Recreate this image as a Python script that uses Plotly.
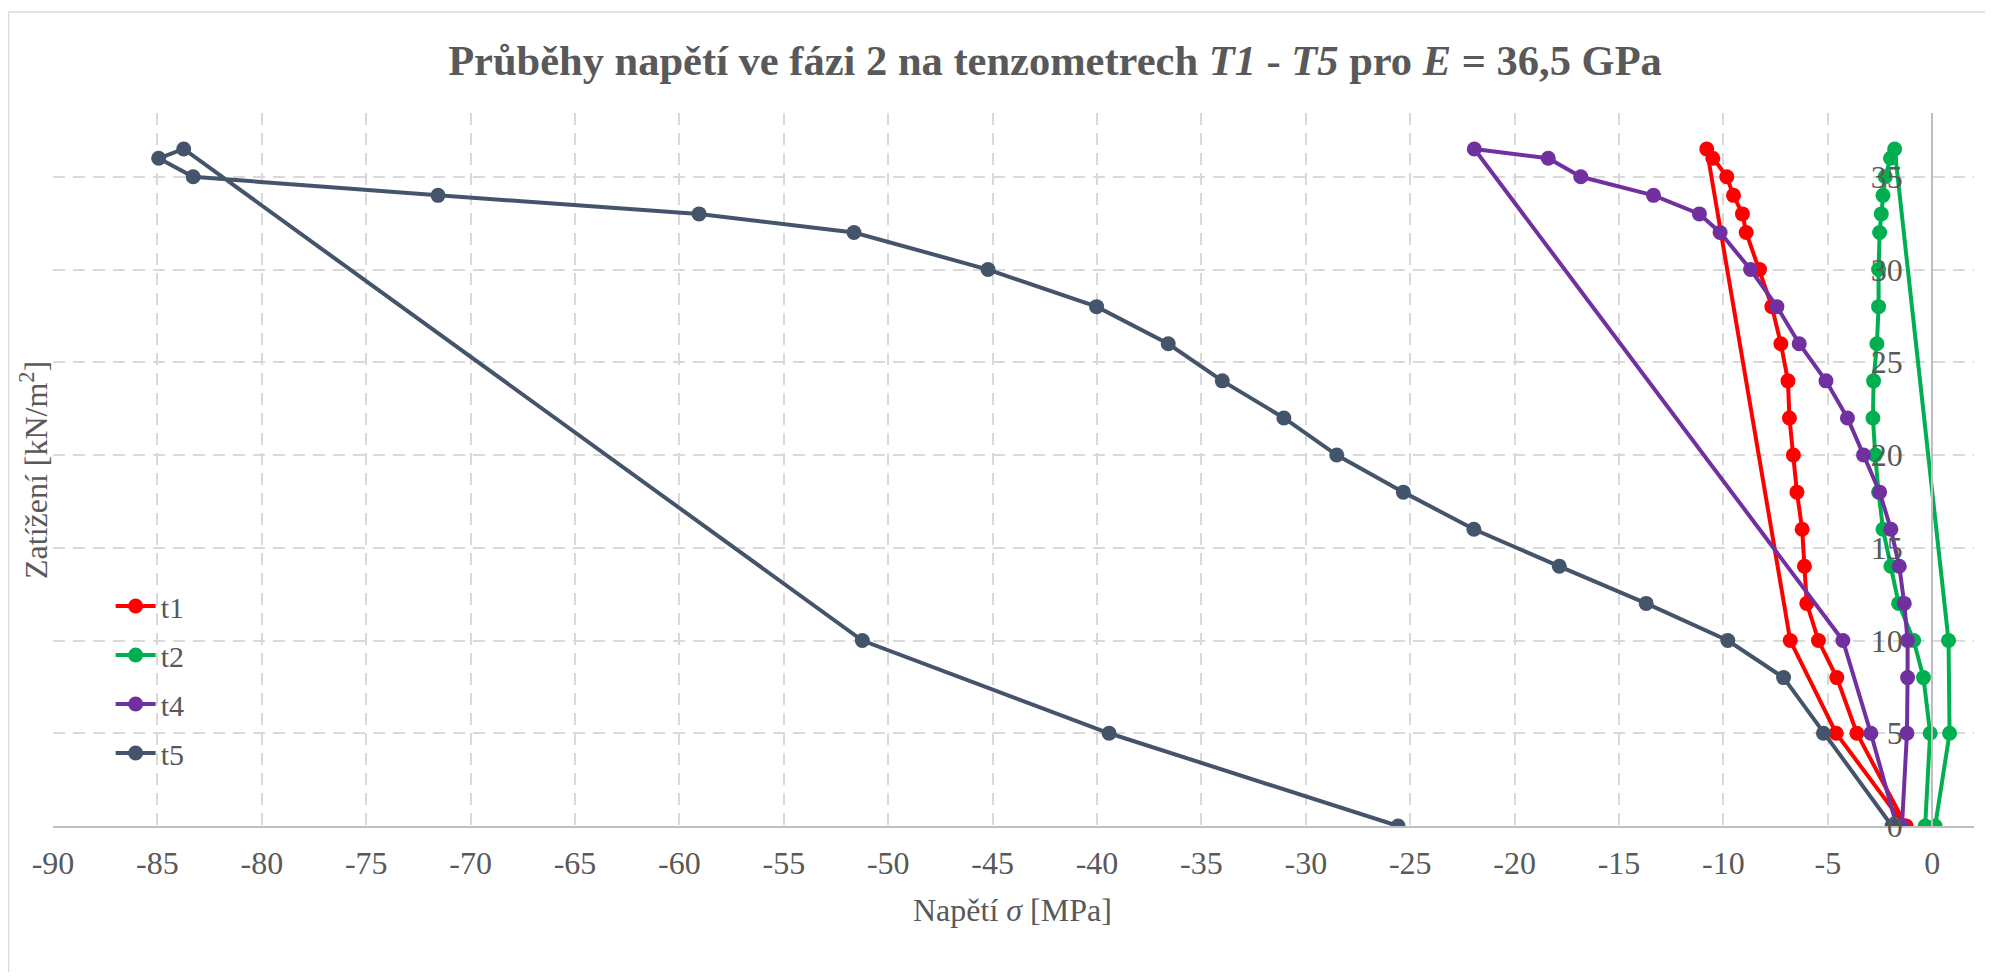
import plotly.graph_objects as go

# Load sequence (kN/m2): loading 0 -> 36.5, then unloading 10, 5, 0
load_y = [0, 5, 8, 10, 12, 14, 16, 18, 20, 22, 24, 26, 28, 30, 32, 33, 34, 35, 36, 36.5, 10, 5, 0]

t1_x = [-1.25, -3.61, -4.57, -5.45, -6.01, -6.12, -6.23, -6.48, -6.65, -6.84, -6.91, -7.25,
        -7.68, -8.27, -8.91, -9.09, -9.52, -9.84, -10.51, -10.80, -6.80, -4.60, -1.30]
t2_x = [-0.34, -0.10, -0.42, -0.89, -1.61, -1.98, -2.36, -2.57, -2.73, -2.84, -2.81, -2.65,
        -2.57, -2.57, -2.52, -2.44, -2.36, -2.25, -2.00, -1.80, 0.78, 0.83, 0.14]
t4_x = [-1.45, -1.21, -1.18, -1.18, -1.34, -1.58, -1.98, -2.52, -3.29, -4.06, -5.09, -6.37,
        -7.44, -8.70, -10.16, -11.15, -13.35, -16.83, -18.39, -21.93, -4.28, -2.94, -1.70]
t5_x = [-1.93, -5.21, -7.12, -9.79, -13.70, -17.86, -21.95, -25.33, -28.52, -31.05, -34.00, -36.59,
        -40.02, -45.22, -51.64, -59.06, -71.56, -83.29, -84.94, -83.74, -51.24, -39.42, -25.58]

series_names = ["t1", "t2", "t4", "t5"]
series_x = [t1_x, t2_x, t4_x, t5_x]
series_colors = ["#FF0000", "#00B050", "#7030A0", "#44546A"]

x_ticks = list(range(-90, 1, 5))
y_ticks = list(range(0, 36, 5))

FONT = "Liberation Serif"
GREY = "#595959"

W, H = 1977, 964
ML, MR, MT, MB = 45, 11, 105, 146
PW = W - ML - MR
PH = H - MT - MB

fig = go.Figure()
for name, xs, col in zip(series_names, series_x, series_colors):
    fig.add_trace(go.Scatter(
        x=xs, y=load_y, name=name, mode="lines+markers", legendgroup=name,
        line=dict(color=col, width=4),
        marker=dict(color=col, size=15, line=dict(width=0)),
    ))

x_min, x_max = -90, 2
y_min, y_max = 0, 38.44

def px_x(p):
    return (p - ML) / PW

def px_y(p):
    return (H - MB - p) / PH

fig.update_layout(
    width=W, height=H,
    margin=dict(l=ML, r=MR, t=MT, b=MB),
    paper_bgcolor="white", plot_bgcolor="white",
    font=dict(family=FONT, color=GREY),
    title=dict(
        text="<b>Průběhy napětí ve fázi 2 na tenzometrech <i>T1</i> - <i>T5</i> pro <i>E</i> = 36,5 GPa</b>",
        x=1047 / W, xanchor="center", xref="container",
        y=1 - 52 / H, yanchor="middle", yref="container",
        font=dict(family=FONT, size=42.5, color=GREY),
    ),
    xaxis=dict(
        range=[x_min, x_max], tickvals=x_ticks, ticktext=[str(v) for v in x_ticks],
        showgrid=True, gridcolor="#d9d9d9", gridwidth=2, griddash="12px,8px",
        zeroline=False, showline=True, linecolor="#bfbfbf", linewidth=2,
        ticks="", tickfont=dict(family=FONT, size=32, color=GREY),
        ticklabelstandoff=8,
    ),
    yaxis=dict(
        range=[y_min, y_max], tickvals=y_ticks,
        anchor="free", position=(0 - x_min) / (x_max - x_min), side="left",
        showgrid=True, gridcolor="#d9d9d9", gridwidth=2, griddash="12px,8px",
        zeroline=False, showline=True, linecolor="#bfbfbf", linewidth=2,
        ticks="", tickfont=dict(family=FONT, size=32, color=GREY),
        ticklabelstandoff=22,
    ),
    legend=dict(
        x=0.03, xanchor="left", y=0.345, yanchor="top",
        bgcolor="rgba(0,0,0,0)", font=dict(family=FONT, size=30, color=GREY),
        tracegroupgap=7, itemwidth=40,
    ),
    showlegend=True,
    annotations=[
        dict(text="Zatížení [kN/m<sup>2</sup>]", xref="paper", yref="paper",
             x=px_x(26), y=px_y(462), xanchor="center", yanchor="middle",
             textangle=-90, showarrow=False, font=dict(family=FONT, size=32, color=GREY)),
        dict(text="Napětí <i>σ</i> [MPa]", xref="paper", yref="paper",
             x=px_x(1004), y=px_y(902), xanchor="center", yanchor="middle",
             showarrow=False, font=dict(family=FONT, size=32, color=GREY)),
    ],
    shapes=[
        dict(type="line", xref="paper", yref="paper",
             x0=px_x(0.5), x1=px_x(0.5), y0=px_y(H), y1=px_y(4),
             line=dict(color="#d9d9d9", width=1.5)),
        dict(type="line", xref="paper", yref="paper",
             x0=px_x(0.5), x1=px_x(W), y0=px_y(4), y1=px_y(4),
             line=dict(color="#d9d9d9", width=1.5)),
    ],
)

fig.write_html("out.html")
